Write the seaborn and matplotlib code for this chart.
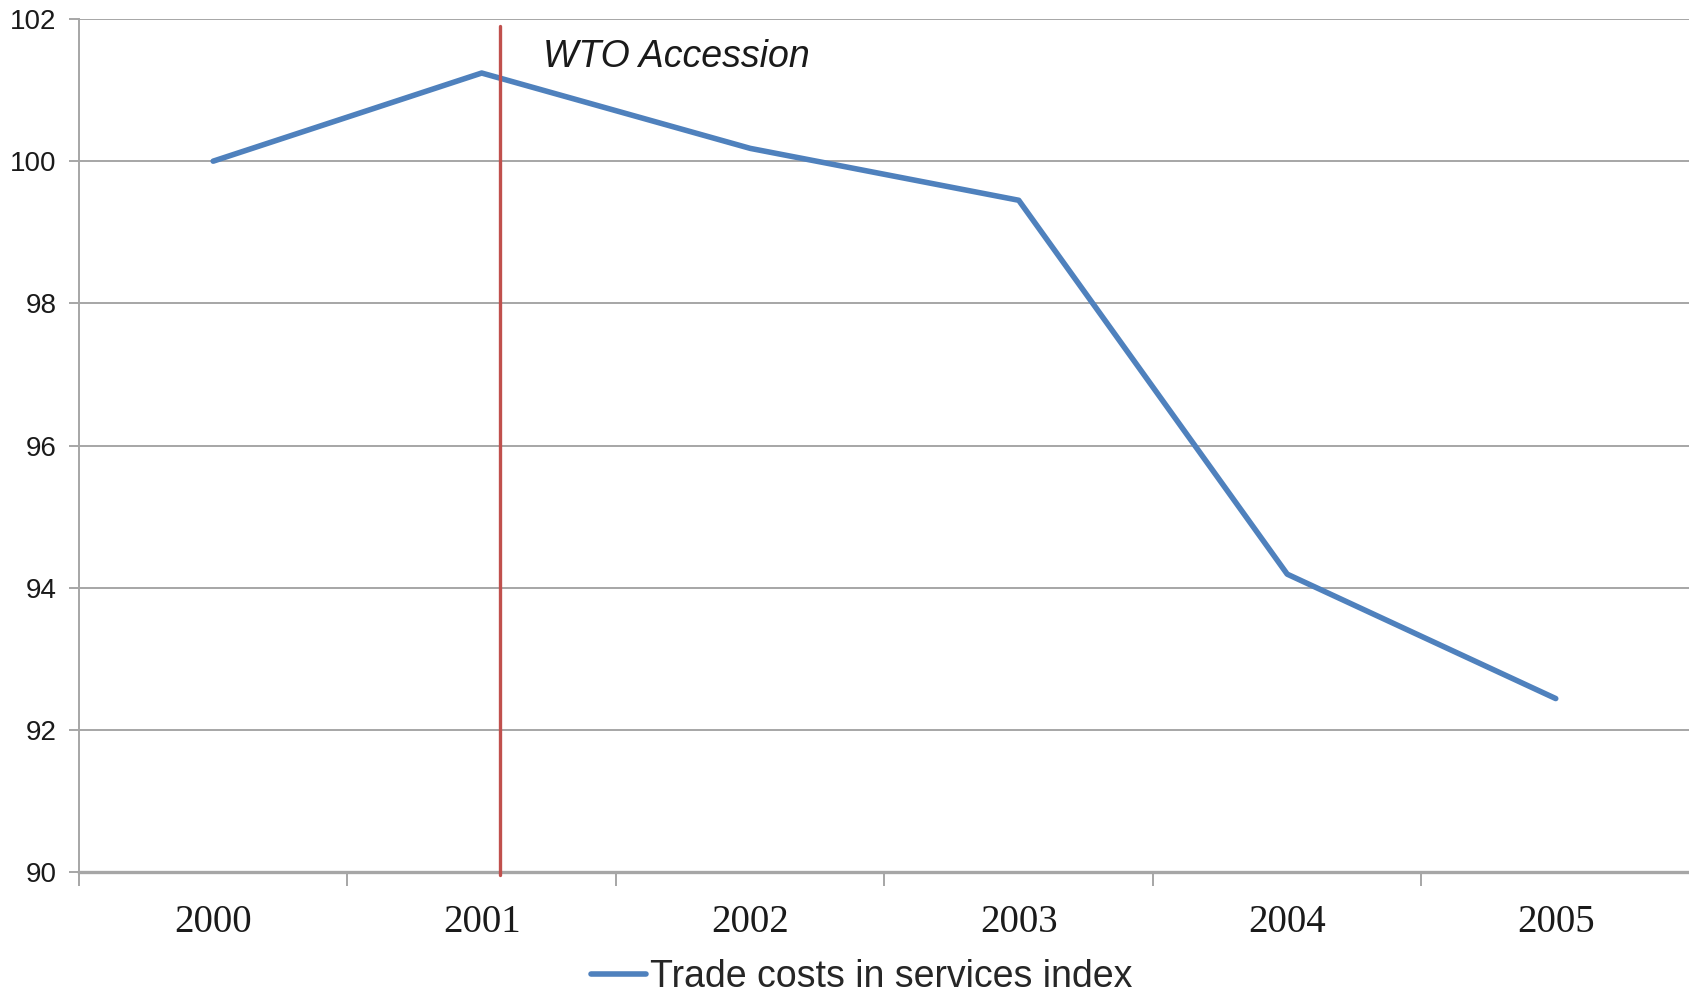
import matplotlib
matplotlib.use("Agg")
import matplotlib.pyplot as plt
import seaborn as sns
import pandas as pd
import numpy as np

# ===== DATA =====
years = ["2000", "2001", "2002", "2003", "2004", "2005"]
trade_costs = [100.0, 101.24, 100.18, 99.45, 94.19, 92.44]
series_name = "Trade costs in services index"
accession_label = "WTO Accession"
accession_pos = 1.068  # just after 2001
y_ticks = [90, 92, 94, 96, 98, 100, 102]

BLUE = "#4F81BD"
RED = "#C0504D"
GRID = "#A6A6A6"

sns.set_style("white")
plt.rcParams["font.family"] = ["Liberation Sans", "DejaVu Sans"]

df = pd.DataFrame({"pos": np.arange(len(years)), "value": trade_costs})

fig = plt.figure(figsize=(16.9, 10), dpi=100)
ax = fig.add_axes([0.0467, 0.128, 0.9533, 0.853])

sns.lineplot(data=df, x="pos", y="value", color=BLUE, linewidth=4.0,
             label=series_name, ax=ax, legend=False)

ax.axvline(accession_pos, ymin=-0.004, ymax=0.992, color=RED, linewidth=2.4,
           clip_on=False, zorder=3)
ax.text(accession_pos + 0.16, 101.33, accession_label, fontsize=27,
        style="italic", color="#1a1a1a", va="baseline", ha="left")

ax.set_xlim(-0.5, len(years) - 0.5)
ax.set_ylim(90, 102)
ax.set_yticks(y_ticks)
ax.set_yticklabels([str(v) for v in y_ticks], fontsize=20, color="#1a1a1a")
ax.yaxis.grid(True, color=GRID, linewidth=1.4)
ax.set_axisbelow(True)

# category boundaries as major ticks, labels at centers as minor ticks
ax.set_xticks(np.arange(-0.5, len(years), 1.0))
ax.set_xticklabels([])
ax.set_xticks(np.arange(len(years)), minor=True)
ax.set_xticklabels(years, minor=True, fontsize=28,
                   fontfamily="Liberation Serif", color="#1a1a1a")
ax.tick_params(axis="x", which="major", bottom=True, length=10, width=1.4,
               color=GRID, direction="out")
ax.tick_params(axis="x", which="minor", bottom=True, length=0, pad=23)
ax.tick_params(axis="y", left=True, length=7, width=1.4, color=GRID, pad=9)
ax.set_xlabel("")
ax.set_ylabel("")

for side in ["top", "right"]:
    ax.spines[side].set_visible(False)
ax.spines["left"].set_color(GRID)
ax.spines["left"].set_linewidth(1.4)
ax.spines["bottom"].set_color(GRID)
ax.spines["bottom"].set_linewidth(2.4)

handles, labels = ax.get_legend_handles_labels()
fig.legend(handles, labels, loc="center", bbox_to_anchor=(0.51, 0.023),
           frameon=False, fontsize=27, handlelength=1.45, handletextpad=0.12,
           borderpad=0.2)

fig.savefig("out.png", dpi=100)
